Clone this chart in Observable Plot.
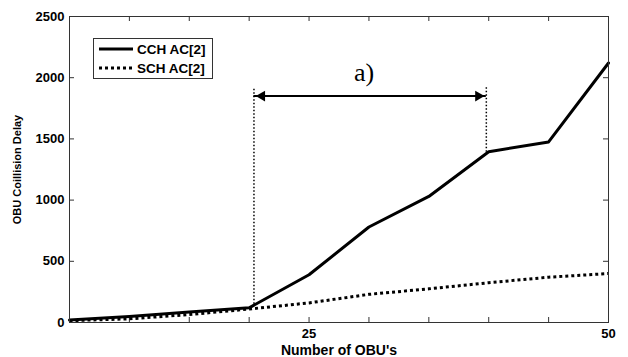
<!DOCTYPE html>
<html>
<head>
<meta charset="utf-8">
<script src="https://cdn.jsdelivr.net/npm/d3@7"></script>
<script src="https://cdn.jsdelivr.net/npm/@observablehq/plot@0.6"></script>
<style>
  html, body { margin: 0; padding: 0; background: #fff; }
  #wrap { position: relative; width: 628px; height: 357px; }
  #legend { position: absolute; left: 93px; top: 38px; }
</style>
</head>
<body>
<div id="wrap"></div>
<script>
// Data
const obus = [5, 10, 15, 20, 25, 30, 35, 40, 45, 50];
const cchDelay = [20, 50, 85, 120, 390, 780, 1030, 1395, 1475, 2120];
const schDelay = [15, 30, 65, 110, 160, 230, 275, 325, 370, 400];
const seriesNames = ["CCH AC[2]", "SCH AC[2]"];
const xTicks = [5, 10, 15, 20, 25, 30, 35, 40, 45, 50];
const xTickLabels = [25, 50];
const yTicks = [0, 500, 1000, 1500, 2000, 2500];
const rangeX = [20.4, 39.8];     // annotation a) span
const rangeTop = 1920;
const rangeBottoms = [150, 1390];
const arrowY = 1850;
const annotLabel = "a)";
const annotPos = [29.6, 2040];

const cch = obus.map((x, i) => ({x, y: cchDelay[i]}));
const sch = obus.map((x, i) => ({x, y: schDelay[i]}));
const vlines = rangeX.map((x, i) => ({x, y1: rangeBottoms[i], y2: rangeTop}));
const heads = [
  {x: rangeX[0], y: arrowY, rot: -90, dx: 8},
  {x: rangeX[1], y: arrowY, rot: 90, dx: -8}
];

const W = 628, H = 357, ML = 69, MR = 20, MT = 16, MB = 35;
const FW = W - ML - MR, FH = H - MT - MB;
const tk = 5;

const chart = Plot.plot({
  width: W, height: H,
  marginLeft: ML, marginRight: MR, marginTop: MT, marginBottom: MB,
  x: {domain: [5, 50]},
  y: {domain: [0, 2500]},
  style: {fontFamily: "'Liberation Sans', Arial, sans-serif", fontSize: "13px", color: "#000", background: "#fff"},
  marks: [
    // inward tick marks
    Plot.tickX(xTicks, {x: d => d, insetTop: FH - tk, stroke: "#333"}),
    Plot.tickX(xTicks, {x: d => d, insetBottom: FH - tk, stroke: "#333"}),
    Plot.tickY(yTicks, {y: d => d, insetRight: FW - tk, stroke: "#333"}),
    Plot.tickY(yTicks, {y: d => d, insetLeft: FW - tk, stroke: "#333"}),
    Plot.axisX({ticks: xTickLabels, tickSize: 0, tickPadding: 6, tickFormat: d => String(d), fontWeight: "bold", fontSize: 13, label: null}),
    Plot.axisX({ticks: [], label: "Number of OBU's", labelAnchor: "center", labelArrow: "none", fontSize: 14, fontWeight: "bold", dx: -11}),
    Plot.axisY({ticks: yTicks, tickSize: 0, tickPadding: 5, tickFormat: d => String(d), fontWeight: "bold", fontSize: 13, label: null}),
    Plot.axisY({ticks: [], label: "OBU Coillision Delay", labelAnchor: "center", labelArrow: "none", labelOffset: 56, fontSize: 11, fontWeight: "bold", dy: 2}),
    // data
    Plot.line(sch, {x: "x", y: "y", stroke: "#000", strokeWidth: 3, strokeDasharray: "3,3", strokeLinecap: "butt"}),
    Plot.line(cch, {x: "x", y: "y", stroke: "#000", strokeWidth: 3}),
    // annotation
    Plot.ruleX(vlines, {x: "x", y1: "y1", y2: "y2", stroke: "#000", strokeWidth: 1.5, strokeDasharray: "1.5,2"}),
    Plot.ruleY([arrowY], {x1: rangeX[0], x2: rangeX[1], y: d => d, stroke: "#000", strokeWidth: 2}),
    Plot.dot(heads, {x: "x", y: "y", symbol: "triangle2", r: 5.14, rotate: "rot", fill: "#000", stroke: null}),
    Plot.text([annotLabel], {x: annotPos[0], y: annotPos[1], text: d => d, fontFamily: "'Liberation Serif', 'Times New Roman', serif", fontSize: 26, fill: "#000"}),
    Plot.frame({stroke: "#333"})
  ]
});

// shift arrowheads so tips sit on the range ends
chart.querySelectorAll("g[aria-label='dot'] path").forEach((p, i) => {
  const t = p.getAttribute("transform") || "";
  p.setAttribute("transform", `translate(${heads[i].dx},0) ` + t);
});

const wrap = document.getElementById("wrap");
wrap.appendChild(chart);

// legend
const leg = document.createElement("div");
leg.id = "legend";
leg.innerHTML = `
<svg width="120" height="41" style="display:block;font-family:'Liberation Sans',Arial,sans-serif;">
  <rect x="0.5" y="0.5" width="119" height="40" fill="#fff" stroke="#333"/>
  <line x1="6" x2="40" y1="11" y2="11" stroke="#000" stroke-width="3"/>
  <text x="44" y="11" dy="0.35em" font-size="13.5" font-weight="bold">${seriesNames[0]}</text>
  <line x1="6" x2="40" y1="30" y2="30" stroke="#000" stroke-width="3" stroke-dasharray="3,3"/>
  <text x="44" y="30" dy="0.35em" font-size="13.5" font-weight="bold">${seriesNames[1]}</text>
</svg>`;
wrap.appendChild(leg);
</script>
</body>
</html>
